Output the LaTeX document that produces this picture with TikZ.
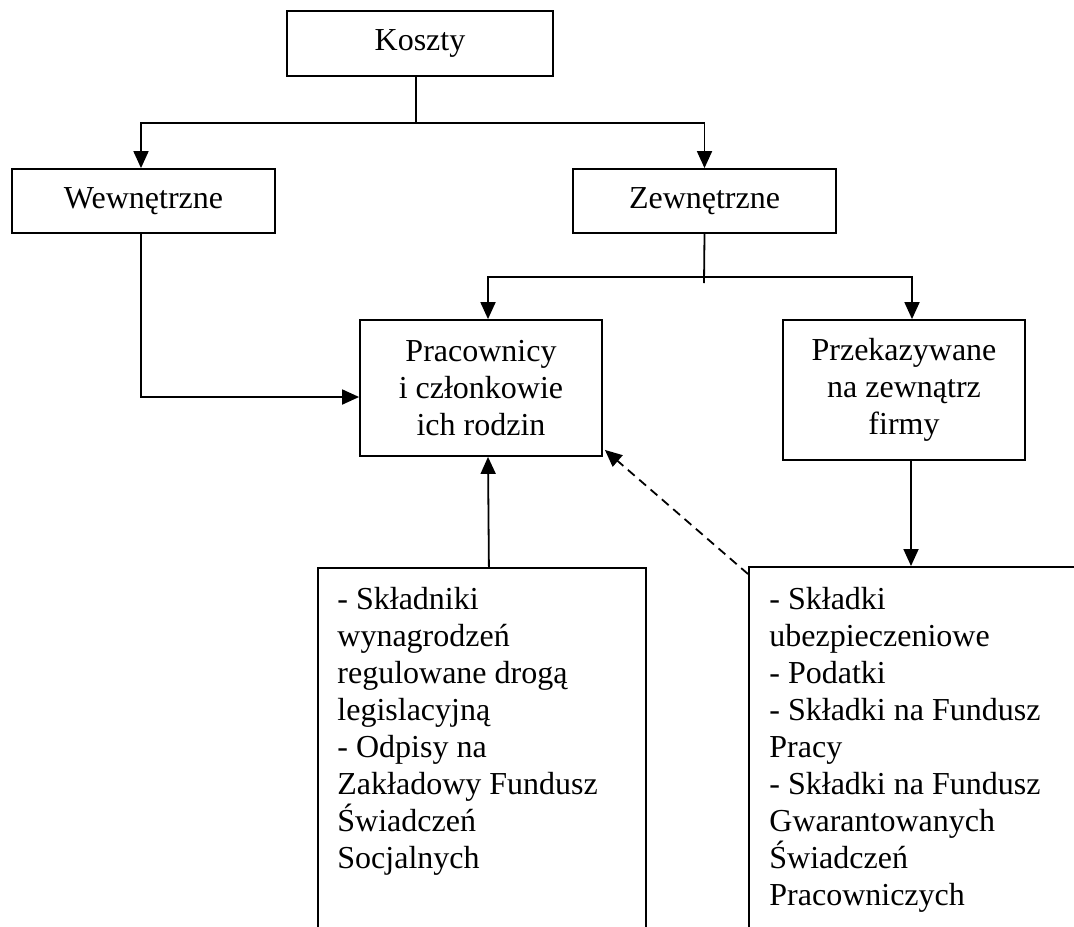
\documentclass[tikz,border=0pt]{standalone}
\usepackage{fontspec}
\setmainfont{Liberation Serif}
\usetikzlibrary{arrows.meta}
\begin{document}
\begin{tikzpicture}[x=0.5pt,y=-0.5pt,
  box/.style={draw, line width=0.9pt, inner sep=0pt, align=center,
    font=\fontsize{16}{18.5}\selectfont},
  listtext/.style={inner sep=0pt, align=left, anchor=north west,
    font=\fontsize{16}{18.5}\selectfont},
  line/.style={line width=0.9pt},
  arr/.style={line width=0.9pt, -{Triangle[length=8.5pt,width=7.5pt]}},
  darr/.style={arr, dashed, dash pattern=on 4.5pt off 3pt}]
\clip (0,0) rectangle (1074,926);
\fill[white] (0,0) rectangle (1074,926);

% main boxes
\node[box, minimum width=133pt, minimum height=32.5pt] (kosz) at (420,43.5) {Koszty};
\node[box, minimum width=131.5pt, minimum height=32pt] (wew) at (143.5,201) {Wewnętrzne};
\node[box, minimum width=131.5pt, minimum height=32pt] (zew) at (704.5,201) {Zewnętrzne};
\node[box, minimum width=121pt, minimum height=68pt] (pr) at (481,388)
  {Pracownicy\\i członkowie\\ich rodzin};
\node[box, minimum width=121pt, minimum height=70pt] (prz) at (904,390)
  {Przekazywane\\na zewnątrz\\firmy};

% lower boxes, running past the bottom edge
\node[box, anchor=north west, minimum width=164pt, minimum height=200pt] (lb) at (317,567) {};
\node[box, anchor=north west, minimum width=180pt, minimum height=200pt] (rb) at (748,566) {};
\node[listtext] (lbt) at (337,587) {- Składniki\\wynagrodzeń\\regulowane drogą\\legislacyjną\\- Odpisy na\\Zakładowy Fundusz\\Świadczeń\\Socjalnych};
\node[listtext] (rbt) at (769,587) {- Składki\\ubezpieczeniowe\\- Podatki\\- Składki na Fundusz\\Pracy\\- Składki na Fundusz\\Gwarantowanych\\Świadczeń\\Pracowniczych};

% connectors
\coordinate (kj) at (416,123);
\draw[line] ([xshift=-2pt]kosz.south) -- (kj);
\draw[arr] (kj) -| ([xshift=-1.25pt]wew.north);
\draw[arr] (kj) -| (zew.north);

\coordinate (zj) at (704,277);
\draw[line] (zew.south) -- (704,283);
\draw[arr] (zj) -| ([xshift=3.5pt]pr.north);
\draw[arr] (zj) -| ([xshift=4pt]prz.north);

\draw[arr] ([xshift=-1.25pt]wew.south) |- ([yshift=-4.5pt]pr.west);
\draw[arr] ([xshift=3.5pt]lb.north) -- ([xshift=3.5pt]pr.south);
\draw[arr] ([xshift=3.5pt]prz.south) -- ([xshift=3.5pt]prz.south |- rb.north);
\draw[darr] ([yshift=-4pt]rb.north west) -- ([shift={(1pt,3.5pt)}]pr.south east);
\end{tikzpicture}
\end{document}
